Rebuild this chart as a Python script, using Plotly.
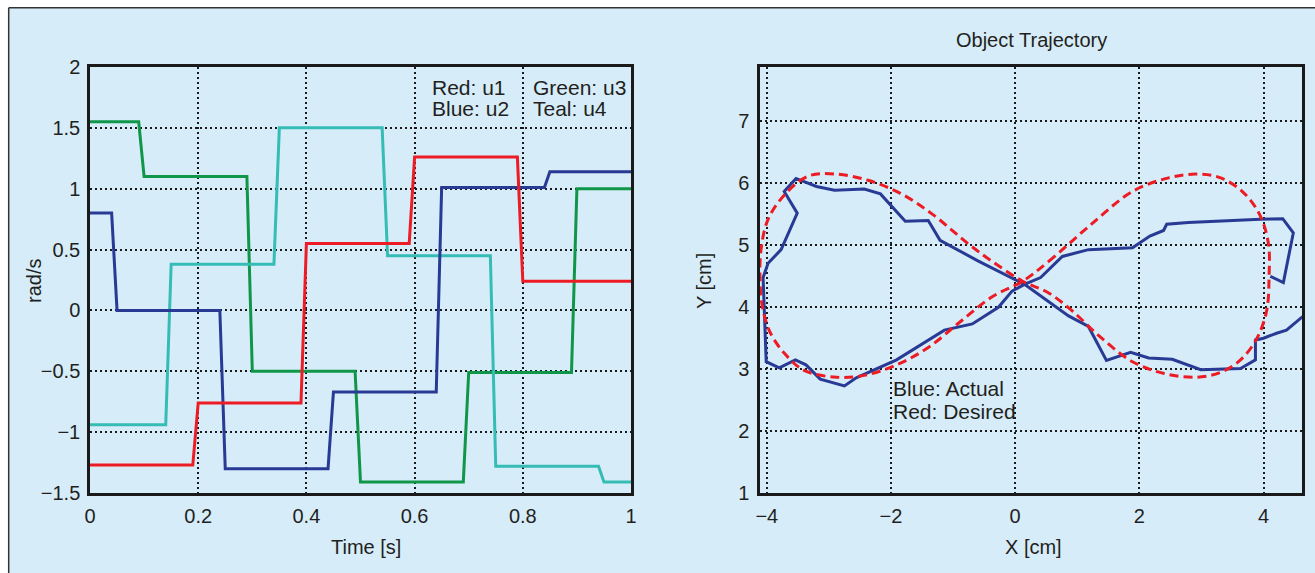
import plotly.graph_objects as go

W, H = 1315, 573
OFF = 0  # page body margin removed by post_script below
FW, FH = W, H

# ---------------- data: left panel (control inputs) ----------------
t_u1 = [0, 0.19, 0.20, 0.39, 0.40, 0.59, 0.60, 0.79, 0.80, 1.0]
u1 = [-1.27, -1.27, -0.76, -0.76, 0.55, 0.55, 1.26, 1.26, 0.24, 0.24]

t_u2 = [0, 0.04, 0.05, 0.24, 0.25, 0.44, 0.45, 0.64, 0.65, 0.84, 0.85, 1.0]
u2 = [0.80, 0.80, 0.0, 0.0, -1.30, -1.30, -0.67, -0.67, 1.01, 1.01, 1.14, 1.14]

t_u3 = [0, 0.09, 0.10, 0.29, 0.30, 0.49, 0.50, 0.69, 0.70, 0.89, 0.90, 1.0]
u3 = [1.55, 1.55, 1.10, 1.10, -0.50, -0.50, -1.41, -1.41, -0.51, -0.51, 1.0, 1.0]

t_u4 = [0, 0.14, 0.15, 0.34, 0.35, 0.54, 0.55, 0.74, 0.75, 0.94, 0.95, 1.0]
u4 = [-0.94, -0.94, 0.38, 0.38, 1.50, 1.50, 0.45, 0.45, -1.28, -1.28, -1.41, -1.41]

# ---------------- data: right panel (trajectory) ----------------
actual_x = [4.75, 4.37, 4.21, 4.00, 3.87, 3.87, 3.63, 2.99, 2.53, 2.15, 1.86, 1.47,
            1.18, 0.86, 0.15, -0.60, -1.21, -1.40, -1.77, -2.17, -2.43, -2.91,
            -3.20, -3.53, -3.72, -3.51, -3.77, -3.98, -4.06, -4.02, -4.01, -3.80,
            -3.54, -3.37, -3.14, -2.75, -2.56, -1.91, -1.14, -0.69, -0.27, -0.05,
            0.15, 0.41, 0.76, 1.18, 1.89, 2.17, 2.39, 2.44, 2.79, 3.95, 4.31,
            4.48, 4.32, 4.11]
actual_y = [3.95, 3.63, 3.58, 3.50, 3.47, 3.15, 3.01, 2.99, 3.16, 3.18, 3.27, 3.14,
            3.69, 3.86, 4.37, 4.75, 5.08, 5.40, 5.39, 5.83, 5.91, 5.89,
            5.95, 6.08, 5.87, 5.52, 4.93, 4.71, 4.48, 3.55, 3.12, 3.02,
            3.15, 3.07, 2.84, 2.73, 2.86, 3.15, 3.63, 3.73, 4.00, 4.26,
            4.37, 4.48, 4.82, 4.93, 4.96, 5.15, 5.24, 5.34, 5.37, 5.42, 5.43,
            5.20, 4.40, 4.50]

desired_x = [0.12, 0.54, 1.18, 1.89, 2.47, 2.92, 3.31, 3.69, 3.95, 4.08, 4.09, 4.05,
             3.89, 3.63, 3.31, 2.92, 2.40, 1.89, 1.37, 0.92, 0.54, 0.12,
             -0.37, -0.75, -1.33, -1.85, -2.37, -2.88, -3.33, -3.72, -3.98, -4.09,
             -4.11, -4.07, -3.95, -3.72, -3.40, -2.88, -2.43, -1.91, -1.40, -0.88,
             -0.37, 0.12]
desired_y = [4.42, 4.74, 5.30, 5.87, 6.09, 6.15, 6.09, 5.84, 5.47, 5.02, 4.51, 3.94,
             3.49, 3.15, 2.95, 2.87, 2.93, 3.12, 3.52, 3.94, 4.23, 4.42,
             4.74, 5.02, 5.50, 5.84, 6.05, 6.15, 6.12, 5.81, 5.42, 4.96,
             4.45, 4.00, 3.60, 3.26, 2.98, 2.87, 2.90, 3.07, 3.35, 3.77,
             4.17, 4.42]

# ---------------- styling ----------------
RED = "#ed1c24"
BLUE = "#283a94"
GREEN = "#0f9648"
TEAL = "#35bcb4"
TXT = "#231f20"
BG = "#d6ecf9"
FONT = "Liberation Sans, Arial, sans-serif"


def px(x):
    return (x - OFF) / FW


def py(y):
    return 1 - (y - OFF) / FH


fig = go.Figure()

for t, u, c in [(t_u3, u3, GREEN), (t_u4, u4, TEAL), (t_u2, u2, BLUE), (t_u1, u1, RED)]:
    fig.add_trace(go.Scatter(x=t, y=u, mode="lines", line=dict(color=c, width=3),
                             xaxis="x", yaxis="y", showlegend=False, hoverinfo="skip"))

fig.add_trace(go.Scatter(x=actual_x, y=actual_y, mode="lines",
                         line=dict(color=BLUE, width=3), xaxis="x2", yaxis="y2",
                         showlegend=False, hoverinfo="skip"))
fig.add_trace(go.Scatter(x=desired_x, y=desired_y, mode="lines",
                         line=dict(color=RED, width=3, dash="9px,5px", shape="spline"),
                         xaxis="x2", yaxis="y2", showlegend=False, hoverinfo="skip"))

axis_common = dict(
    showgrid=True, gridcolor="#1a1a1a", gridwidth=1.5, griddash="2px,3px",
    showline=True, linecolor="#1a1a1a", linewidth=2.5, mirror=True,
    ticks="", zeroline=False, automargin=False,
    tickfont=dict(family=FONT, size=20, color=TXT),
)

top, bottom = 67, 493
fig.update_layout(
    template="plotly",
    width=FW, height=FH,
    autosize=False,
    margin=dict(l=0, r=0, t=0, b=0, pad=0, autoexpand=False),
    paper_bgcolor=BG,
    plot_bgcolor="rgba(0,0,0,0)",
    xaxis=dict(domain=[px(90), px(631)], range=[0, 1], tickvals=[0, 0.2, 0.4, 0.6, 0.8, 1],
               anchor="y", ticklabelstandoff=3, **axis_common),
    yaxis=dict(domain=[py(bottom), py(top)], range=[-1.5, 2],
               tickvals=[-1.5, -1, -0.5, 0, 0.5, 1, 1.5, 2], anchor="x",
               ticklabelstandoff=3, **axis_common),
    xaxis2=dict(domain=[px(760), px(1302)], range=[-4.11, 4.62], tickvals=[-4, -2, 0, 2, 4],
                anchor="y2", ticklabelstandoff=3, **axis_common),
    yaxis2=dict(domain=[py(bottom), py(top)], range=[1, 7.88], tickvals=[1, 2, 3, 4, 5, 6, 7],
                anchor="x2", ticklabelstandoff=4, **axis_common),
    font=dict(family=FONT, color=TXT),
    shapes=[
        # white page margin above/left of the panel
        dict(type="rect", xref="paper", yref="paper", x0=-0.05, x1=1.05,
             y0=py(7.7), y1=1.05, fillcolor="white", line=dict(width=0), layer="below"),
        dict(type="rect", xref="paper", yref="paper", x0=-0.05, x1=px(8.7),
             y0=-0.05, y1=1.05, fillcolor="white", line=dict(width=0), layer="below"),
        # panel border
        dict(type="line", xref="paper", yref="paper", x0=px(8.7), x1=1.05,
             y0=py(7.7), y1=py(7.7), line=dict(color="#333333", width=1.5), layer="below"),
        dict(type="line", xref="paper", yref="paper", x0=px(8.7), x1=px(8.7),
             y0=-0.05, y1=py(7.7), line=dict(color="#333333", width=1.5), layer="below"),
    ],
)

ann = []


def note(text, x, y, size=20, xanchor="center", angle=0):
    ann.append(dict(text=text, x=px(x), y=py(y), xref="paper", yref="paper",
                    showarrow=False, xanchor=xanchor, yanchor="middle", textangle=angle,
                    font=dict(family=FONT, size=size, color=TXT)))


note("Time [s]", 366, 547)
note("rad/s", 34, 281, angle=-90)
note("Object Trajectory", 1031, 40)
note("X [cm]", 1033, 547)
note("Y [cm]", 704, 281, angle=-90)
note("Red: u1", 430, 88, xanchor="left", size=21)
note("Blue: u2", 430, 109, xanchor="left", size=21)
note("Green: u3", 531, 88, xanchor="left", size=21)
note("Teal: u4", 531, 109, xanchor="left", size=21)
note("Blue: Actual", 891, 388, xanchor="left", size=21)
note("Red: Desired", 891, 411, xanchor="left", size=21)

fig.update_layout(annotations=ann)
fig.write_html(
    "out.html",
    config={"displayModeBar": False},
    post_script="document.body.style.margin='0px';"
                "document.body.style.overflow='hidden';",
)
